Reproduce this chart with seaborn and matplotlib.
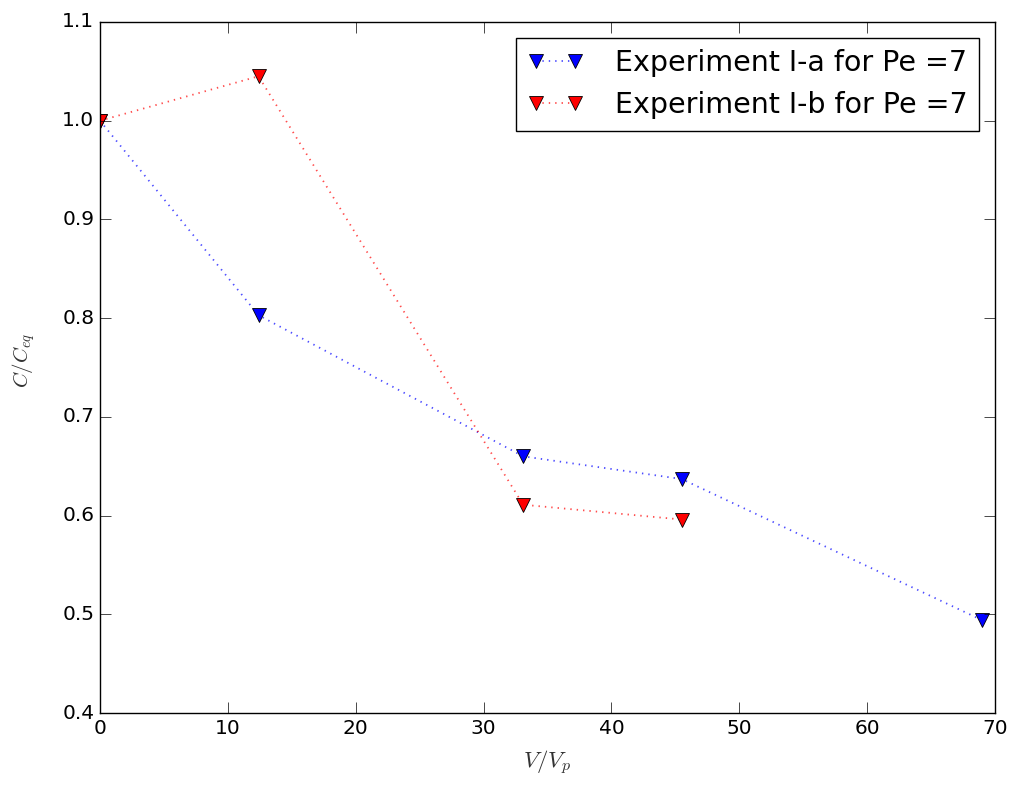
import matplotlib
matplotlib.use("Agg")
import matplotlib.pyplot as plt
import seaborn as sns
import pandas as pd

# 讀圖估計的數據
vp_a = [0.0, 12.4, 33.1, 45.5, 69.0]
c_a = [1.0, 0.803, 0.660, 0.637, 0.494]
vp_b = [0.0, 12.4, 33.1, 45.5]
c_b = [1.0, 1.045, 0.611, 0.596]
labels = ["Experiment I-a for Pe =7", "Experiment I-b for Pe =7"]
colors = ["blue", "red"]

plt.style.use("classic")
plt.rcParams["mathtext.fontset"] = "cm"
plt.rcParams["font.family"] = ["DejaVu Sans"]

df = pd.concat([
    pd.DataFrame({"V": vp_a, "C": c_a, "exp": labels[0]}),
    pd.DataFrame({"V": vp_b, "C": c_b, "exp": labels[1]}),
])

fig = plt.figure(figsize=(10.13, 7.91), dpi=100, facecolor="white")
ax = fig.add_axes([0.0987, 0.0986, 0.8835, 0.8736])

for lab, col in zip(labels, colors):
    sub = df[df["exp"] == lab]
    sns.lineplot(data=sub, x="V", y="C", ax=ax, color=col, linestyle=(0, (1, 3.6)),
                 linewidth=1.3, marker="v", markersize=9.5,
                 markeredgecolor="black", markeredgewidth=0.6, label=lab,
                 sort=False, estimator=None)

# 線條淡一點, 標記保持原色
for line, col in zip(ax.get_lines(), colors):
    line.set_markerfacecolor(col)
    line.set_color(matplotlib.colors.to_rgba(col, 0.7))

ax.set_xlim(0, 70)
ax.set_ylim(0.4, 1.1)
ax.set_xticks(range(0, 71, 10))
ax.set_yticks([0.4, 0.5, 0.6, 0.7, 0.8, 0.9, 1.0, 1.1])
ax.tick_params(labelsize=14.5, direction="in", top=True, right=True, length=8)
ax.set_xlabel(r"$V/V_p$", fontsize=16.5, color="#333333", labelpad=8)
ax.set_ylabel(r"$C/C_{eq}$", fontsize=15, color="#333333", labelpad=17)
ax.yaxis.set_label_coords(-0.07, 0.51)

leg = ax.legend(loc="upper right", fontsize=20.5, numpoints=2, frameon=True,
                handlelength=2.0, handletextpad=1.1, borderaxespad=0.55)
leg.get_frame().set_edgecolor("black")
for h, col in zip(leg.get_lines(), colors):
    h.set_markerfacecolor(col)

fig.savefig("out.png", dpi=100, facecolor="white")
